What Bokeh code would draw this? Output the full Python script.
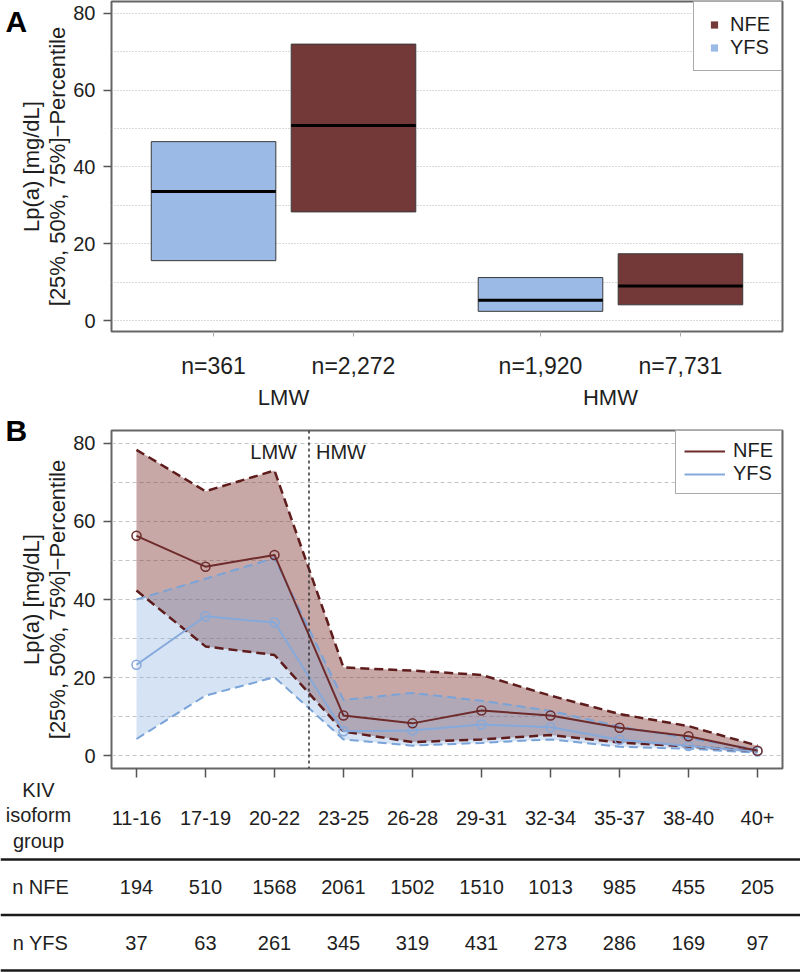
from bokeh.plotting import figure
from bokeh.models import (Range1d, FixedTicker, LinearAxis, Span, Legend, LegendItem)
from bokeh.layouts import column
from bokeh.embed import file_html
from bokeh.resources import INLINE
from bokeh.core.properties import value

FONT = "Liberation Sans"

# ---------------- Panel A data ----------------
a_groups = ["LMW", "HMW"]
a_n_yfs = ["n=361", "n=1,920"]
a_n_nfe = ["n=2,272", "n=7,731"]
a_yfs_q1 = [15.6, 2.4]
a_yfs_med = [33.6, 5.3]
a_yfs_q3 = [46.6, 11.2]
a_nfe_q1 = [28.3, 4.1]
a_nfe_med = [50.8, 9.0]
a_nfe_q3 = [72.0, 17.4]

# ---------------- Panel B data ----------------
groups = ["11-16", "17-19", "20-22", "23-25", "26-28", "29-31", "32-34", "35-37", "38-40", "40+"]
n_lmw_groups = 3
nfe_q1 = [42.3, 28.0, 25.8, 6.2, 3.5, 4.2, 5.3, 3.4, 2.4, 1.2]
nfe_med = [56.3, 48.4, 51.4, 10.3, 8.3, 11.6, 10.3, 7.2, 5.0, 1.3]
nfe_q3 = [78.3, 67.7, 73.0, 22.6, 21.8, 20.7, 15.4, 10.7, 7.6, 2.6]
yfs_q1 = [4.3, 15.4, 20.1, 4.2, 2.6, 3.3, 4.2, 2.3, 1.8, 0.8]
yfs_med = [23.3, 35.7, 34.1, 6.3, 6.5, 8.0, 7.3, 4.1, 2.5, 1.1]
yfs_q3 = [40.0, 45.3, 50.6, 14.3, 16.1, 14.1, 11.5, 7.5, 4.5, 1.6]
n_nfe = ["194", "510", "1568", "2061", "1502", "1510", "1013", "985", "455", "205"]
n_yfs = ["37", "63", "261", "345", "319", "431", "273", "286", "169", "97"]
header_label = "KIV\nisoform\ngroup"
row_labels = ["n NFE", "n YFS"]

y_ticks = [0, 20, 40, 60, 80]
grid_ticks = [0, 10, 20, 30, 40, 50, 60, 70, 80]
y_label = "Lp(a) [mg/dL]\n[25%, 50%, 75%]\u2212Percentile"

# ---------------- colours ----------------
NFE_BOX = "#733838"
YFS_BOX = "#9bbbe6"
NFE_LINE = "#6e2b2b"
NFE_DASH = "#5e1c1c"
YFS_LINE = "#86a9db"
YFS_DASH = "#7aa3d8"
TXT = "#1e1e1e"

W = 800
LEFT = 111
RIGHT = 18
FRAME_W = W - LEFT - RIGHT


def style_yaxis(p):
    ax = p.yaxis[0]
    ax.ticker = FixedTicker(ticks=y_ticks)
    ax.axis_line_color = None
    ax.major_tick_out = 8
    ax.major_tick_in = 0
    ax.major_tick_line_color = "#555555"
    ax.major_tick_line_width = 1.5
    ax.minor_tick_line_color = None
    ax.major_label_text_font = FONT
    ax.major_label_text_font_size = "20px"
    ax.major_label_text_color = TXT
    ax.major_label_standoff = 8
    ax.axis_label = y_label
    ax.axis_label_text_font = FONT
    ax.axis_label_text_font_size = "22px"
    ax.axis_label_text_font_style = "normal"
    ax.axis_label_text_color = TXT
    ax.axis_label_standoff = 0
    ax.axis_label_text_line_height = 1.05


# ================= Panel A =================
GAP = 0.336
BW = 0.89
PAD_A = 0.729
A_TOP = 1
A_FRAME_H = 332
A_BOTTOM = 79
A_YR = (-2.85, 83.1)


def a_pos(g, j):
    return round(g * (2 + GAP) + j, 3)


xa_yfs = [a_pos(g, 0) for g in range(len(a_groups))]
xa_nfe = [a_pos(g, 1) for g in range(len(a_groups))]
xa_grp = [round((a_pos(g, 0) + a_pos(g, 1)) / 2, 3) for g in range(len(a_groups))]
xa_start = a_pos(0, 0) - PAD_A
xa_end = a_pos(len(a_groups) - 1, 1) + PAD_A

pa = figure(width=W, height=A_TOP + A_FRAME_H + A_BOTTOM, output_backend="svg",
            toolbar_location=None, frame_align=False,
            x_range=Range1d(xa_start, xa_end), y_range=Range1d(*A_YR),
            x_axis_location=None,
            min_border_left=LEFT, min_border_right=RIGHT, min_border_top=A_TOP,
            min_border_bottom=A_BOTTOM)
pa.outline_line_color = "#666666"
pa.outline_line_width = 2
for g in pa.xgrid:
    g.visible = False
pa.ygrid.ticker = FixedTicker(ticks=grid_ticks)
pa.ygrid.grid_line_color = "#b5b5b5"
pa.ygrid.grid_line_dash = "1 2"
pa.ygrid.grid_line_width = 1
style_yaxis(pa)

pa.vbar(x=xa_yfs, width=BW, bottom=a_yfs_q1, top=a_yfs_q3, fill_color=YFS_BOX,
        line_color="#3a3a3a", line_width=1)
pa.vbar(x=xa_nfe, width=BW, bottom=a_nfe_q1, top=a_nfe_q3, fill_color=NFE_BOX,
        line_color="#3a3a3a", line_width=1)
pa.segment(x0=[x - BW / 2 for x in xa_yfs], x1=[x + BW / 2 for x in xa_yfs],
           y0=a_yfs_med, y1=a_yfs_med, line_color="black", line_width=3)
pa.segment(x0=[x - BW / 2 for x in xa_nfe], x1=[x + BW / 2 for x in xa_nfe],
           y0=a_nfe_med, y1=a_nfe_med, line_color="black", line_width=3)

# n labels axis
n_ticks = []
n_over = {}
for g in range(len(a_groups)):
    n_ticks += [xa_yfs[g], xa_nfe[g]]
    n_over[xa_yfs[g]] = a_n_yfs[g]
    n_over[xa_nfe[g]] = a_n_nfe[g]
ax1 = LinearAxis(ticker=FixedTicker(ticks=n_ticks), major_label_overrides=n_over)
ax1.axis_line_color = None
ax1.major_tick_out = 5
ax1.major_tick_in = 0
ax1.major_tick_line_color = "#aaaaaa"
ax1.minor_tick_line_color = None
ax1.major_label_text_font = FONT
ax1.major_label_text_font_size = "23px"
ax1.major_label_text_color = TXT
ax1.major_label_standoff = 16
pa.add_layout(ax1, "below")

ax2 = LinearAxis(ticker=FixedTicker(ticks=xa_grp),
                 major_label_overrides={xa_grp[g]: a_groups[g] for g in range(len(a_groups))})
ax2.axis_line_color = None
ax2.major_tick_line_color = None
ax2.major_tick_out = 0
ax2.major_tick_in = 0
ax2.minor_tick_line_color = None
ax2.major_label_text_font = FONT
ax2.major_label_text_font_size = "22px"
ax2.major_label_text_color = TXT
ax2.major_label_standoff = 3
pa.add_layout(ax2, "below")

r_nfe_leg = pa.scatter(x=[xa_nfe[0]], y=[a_nfe_med[0]], marker="square", size=0,
                       fill_color=NFE_BOX, line_color=None)
r_yfs_leg = pa.scatter(x=[xa_yfs[0]], y=[a_yfs_med[0]], marker="square", size=0,
                       fill_color=YFS_BOX, line_color=None)
leg_a = Legend(items=[LegendItem(label="NFE", renderers=[r_nfe_leg]),
                      LegendItem(label="YFS", renderers=[r_yfs_leg])],
               location="top_right", margin=0, padding=11, spacing=0,
               glyph_width=18, glyph_height=23, label_height=23, label_standoff=7,
               label_text_font=FONT, label_text_font_size="20px", label_text_color=TXT,
               border_line_color="#555555", border_line_width=1.5,
               background_fill_color="white", background_fill_alpha=1)
pa.add_layout(leg_a)

# panel letter "A" (outside the frame, overlay level so it is not clipped)
pxa_x = FRAME_W / (xa_end - xa_start)
pxa_y = A_FRAME_H / (A_YR[1] - A_YR[0])
pa.text(x=[xa_start - (LEFT - 5) / pxa_x], y=[A_YR[1] - 4 / pxa_y], text=["A"],
        text_align="left", text_baseline="top", text_font=value(FONT),
        text_font_size="30px", text_font_style="bold", text_color="black", level="overlay")

# ================= Panel B =================
PAD_B = 0.362
B_TOP = 18
B_FRAME_H = 338
B_BOTTOM = 84
B_YR = (-3.25, 83.25)
xb = list(range(len(groups)))
xb_start = -PAD_B
xb_end = len(groups) - 1 + PAD_B

pb = figure(width=W, height=B_TOP + B_FRAME_H + B_BOTTOM, output_backend="svg",
            toolbar_location=None, frame_align=False,
            x_range=Range1d(xb_start, xb_end), y_range=Range1d(*B_YR),
            min_border_left=LEFT, min_border_right=RIGHT, min_border_top=B_TOP,
            min_border_bottom=B_BOTTOM)
pb.outline_line_color = "#666666"
pb.outline_line_width = 2
pb.xgrid.visible = False
pb.ygrid.ticker = FixedTicker(ticks=grid_ticks)
pb.ygrid.grid_line_color = "#c4c4c4"
pb.ygrid.grid_line_dash = "4 3"
pb.ygrid.grid_line_width = 1.2
style_yaxis(pb)
bx = pb.xaxis[0]
bx.ticker = FixedTicker(ticks=xb)
bx.major_label_overrides = {i: groups[i] for i in xb}
bx.axis_line_color = None
bx.major_tick_out = 9
bx.major_tick_in = 0
bx.major_tick_line_color = "#555555"
bx.major_tick_line_width = 1.5
bx.minor_tick_line_color = None
bx.major_label_text_font = FONT
bx.major_label_text_font_size = "20px"
bx.major_label_text_color = TXT
bx.major_label_standoff = 33

pb.varea(x=xb, y1=nfe_q1, y2=nfe_q3, fill_color="#7b302c", fill_alpha=0.42)
pb.varea(x=xb, y1=yfs_q1, y2=yfs_q3, fill_color="#80a8dc", fill_alpha=0.32)
pb.line(x=xb, y=yfs_q3, line_color=YFS_DASH, line_width=2, line_dash="9 5")
pb.line(x=xb, y=yfs_q1, line_color=YFS_DASH, line_width=2, line_dash="9 5")
pb.line(x=xb, y=nfe_q3, line_color=NFE_DASH, line_width=2.5, line_dash="9 5")
pb.line(x=xb, y=nfe_q1, line_color=NFE_DASH, line_width=2.5, line_dash="9 5")
r_yfs_med = pb.line(x=xb, y=yfs_med, line_color=YFS_LINE, line_width=2)
pb.scatter(x=xb, y=yfs_med, marker="circle", size=9, fill_color=None,
           line_color=YFS_LINE, line_width=1.5)
r_nfe_med = pb.line(x=xb, y=nfe_med, line_color=NFE_LINE, line_width=2)
pb.scatter(x=xb, y=nfe_med, marker="circle", size=9, fill_color=None,
           line_color=NFE_LINE, line_width=1.5)

boundary = n_lmw_groups - 0.5
pb.add_layout(Span(location=boundary, dimension="height", line_color="#333333",
                   line_width=1.5, line_dash="3 3"))
pb.text(x=[boundary], y=[77.7], text=["LMW"], x_offset=-12, text_align="right",
        text_baseline="middle", text_font=value(FONT), text_font_size="20px", text_color=TXT)
pb.text(x=[boundary], y=[77.7], text=["HMW"], x_offset=7, text_align="left",
        text_baseline="middle", text_font=value(FONT), text_font_size="20px", text_color=TXT)

leg_b = Legend(items=[LegendItem(label="NFE", renderers=[r_nfe_med]),
                      LegendItem(label="YFS", renderers=[r_yfs_med])],
               location="top_right", margin=0, padding=8, spacing=0,
               glyph_width=41, glyph_height=22, label_height=22, label_standoff=8,
               label_text_font=FONT, label_text_font_size="20px", label_text_color=TXT,
               border_line_color="#555555", border_line_width=1.5,
               background_fill_color="white", background_fill_alpha=1)
pb.add_layout(leg_b)

pxb_x = FRAME_W / (xb_end - xb_start)
pxb_y = B_FRAME_H / (B_YR[1] - B_YR[0])
pb.text(x=[xb_start - (LEFT - 5) / pxb_x], y=[B_YR[1] + (B_TOP - 1) / pxb_y], text=["B"],
        text_align="left", text_baseline="top", text_font=value(FONT),
        text_font_size="30px", text_font_style="bold", text_color="black", level="overlay")
pb.text(x=[xb_start - (LEFT - 38) / pxb_x], y=[B_YR[0] - 47 / pxb_y], text=[header_label],
        text_align="center", text_baseline="middle", text_font=value(FONT),
        text_font_size="20px", text_color=TXT, text_line_height=1.15, level="overlay")

# ================= Table =================
t_x0 = xb_start - LEFT / pxb_x
t_x1 = xb_end + RIGHT / pxb_x
ROW_PX = 55.5
T_H = 120
T_TOP = 1 - 7 / ROW_PX
T_BOT = T_TOP + T_H / ROW_PX
pt = figure(width=W, height=T_H, output_backend="svg", toolbar_location=None,
            frame_align=False,
            x_range=Range1d(t_x0, t_x1), y_range=Range1d(T_BOT, T_TOP),
            x_axis_location=None, y_axis_location=None,
            min_border_left=0, min_border_right=0, min_border_top=0, min_border_bottom=0)
pt.outline_line_color = None
pt.grid.visible = False

row_y = [1.5, 2.5]
lab_x = t_x0 + 40 / pxb_x
pt.text(x=xb, y=[row_y[0]] * len(groups), text=n_nfe, text_align="center",
        text_baseline="middle", text_font=value(FONT), text_font_size="20px", text_color=TXT)
pt.text(x=xb, y=[row_y[1]] * len(groups), text=n_yfs, text_align="center",
        text_baseline="middle", text_font=value(FONT), text_font_size="20px", text_color=TXT)
pt.text(x=[lab_x] * 2, y=row_y, text=row_labels, text_align="center",
        text_baseline="middle", text_font=value(FONT), text_font_size="20px", text_color=TXT)
for yl in [1, 2, 3]:
    pt.add_layout(Span(location=yl, dimension="width", line_color="#1a1a1a", line_width=2.5))

layout = column(pa, pb, pt, spacing=0)
open("out.html", "w").write(file_html(layout, INLINE))
